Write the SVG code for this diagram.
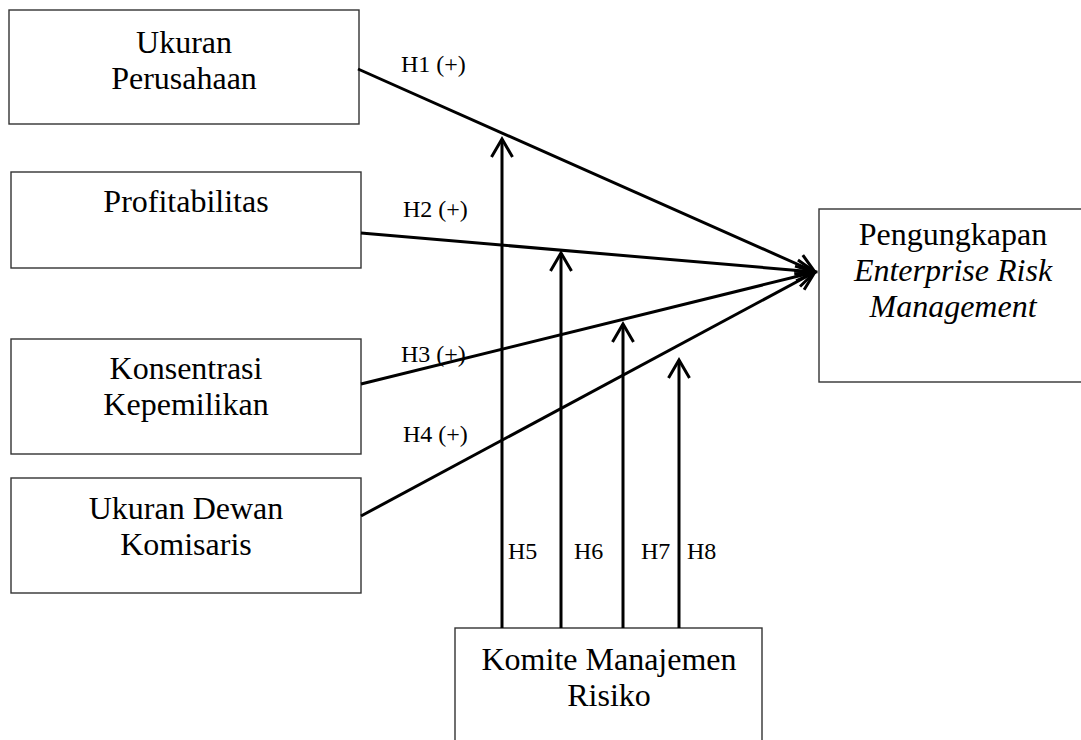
<svg xmlns="http://www.w3.org/2000/svg" width="1081" height="740" viewBox="0 0 1081 740">
<style>
.box{fill:#fff;stroke:#333;stroke-width:1.4}
.t{font-family:"Liberation Serif","Times New Roman",serif;font-size:32px;fill:#000;text-anchor:middle}
.i{font-style:italic}
.lbl{font-family:"Liberation Serif","Times New Roman",serif;font-size:24px;fill:#000}
.c{stroke:#000;stroke-width:3;fill:none;marker-end:url(#ah)}
</style>
<defs>
<marker id="ah" markerUnits="userSpaceOnUse" orient="auto" markerWidth="30" markerHeight="30" refX="0" refY="0" viewBox="-22 -15 30 30" overflow="visible">
<path d="M -18,-10.5 L 0,0 L -18,10.5" fill="none" stroke="#000" stroke-width="3"/>
</marker>
</defs>
<rect width="1081" height="740" fill="#fff"/>
<g id="n1"><rect class="box" x="9" y="10" width="350" height="114"/><text class="t" x="184" y="53">Ukuran</text><text class="t" x="184" y="89">Perusahaan</text></g>
<g id="n2"><rect class="box" x="11" y="172" width="350" height="96"/><text class="t" x="186" y="212">Profitabilitas</text></g>
<g id="n3"><rect class="box" x="11" y="339" width="350" height="115"/><text class="t" x="186" y="379">Konsentrasi</text><text class="t" x="186" y="415">Kepemilikan</text></g>
<g id="n4"><rect class="box" x="11" y="478" width="350" height="115"/><text class="t" x="186" y="519">Ukuran Dewan</text><text class="t" x="186" y="555">Komisaris</text></g>
<g id="n5"><rect class="box" x="819" y="209" width="280" height="173"/><text class="t" x="953" y="245">Pengungkapan</text><text class="t i" x="953" y="281">Enterprise Risk</text><text class="t i" x="953" y="317">Management</text></g>
<g id="n6"><rect class="box" x="455" y="628" width="307" height="130"/><text class="t" x="609" y="670">Komite Manajemen</text><text class="t" x="609" y="706">Risiko</text></g>
<g id="connectors">
<line class="c" x1="358" y1="69" x2="815" y2="272"/>
<line class="c" x1="361" y1="233" x2="815" y2="272"/>
<line class="c" x1="361" y1="384" x2="815" y2="272"/>
<line class="c" x1="361" y1="516" x2="815" y2="272"/>
<line class="c" x1="502" y1="628" x2="502" y2="139"/>
<line class="c" x1="561" y1="628" x2="561" y2="253"/>
<line class="c" x1="623" y1="628" x2="623" y2="324"/>
<line class="c" x1="679" y1="628" x2="679" y2="360"/>
</g>
<g id="labels">
<text class="lbl" x="401" y="72">H1 (+)</text>
<text class="lbl" x="403" y="217">H2 (+)</text>
<text class="lbl" x="401" y="362">H3 (+)</text>
<text class="lbl" x="403" y="442">H4 (+)</text>
<text class="lbl" x="508" y="559">H5</text>
<text class="lbl" x="574" y="559">H6</text>
<text class="lbl" x="641" y="559">H7</text>
<text class="lbl" x="687" y="559">H8</text>
</g>
</svg>
